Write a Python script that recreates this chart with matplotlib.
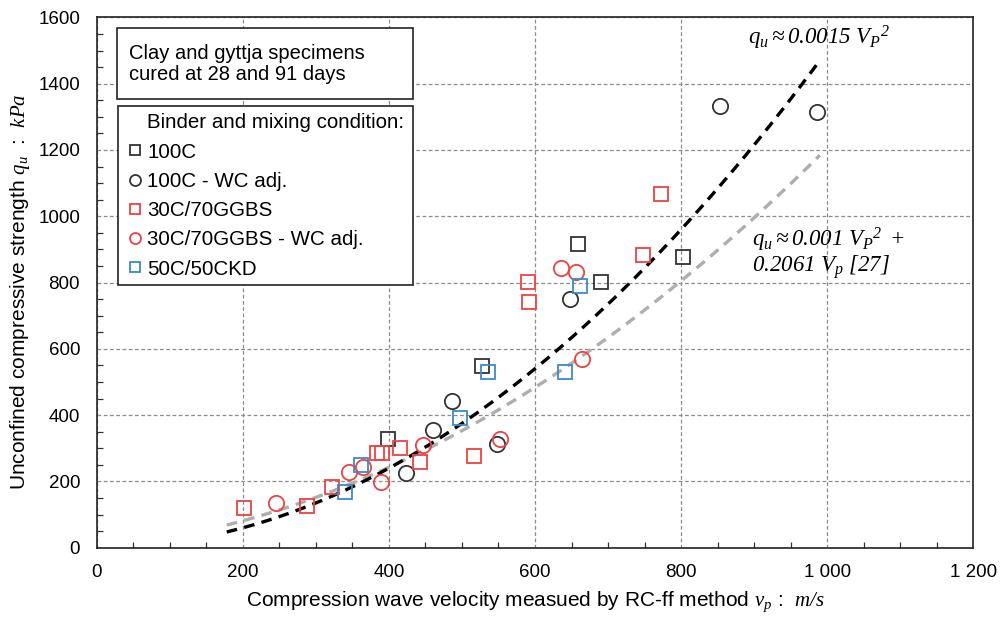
import numpy as np
import matplotlib
matplotlib.use("Agg")
import matplotlib.pyplot as plt
from matplotlib.lines import Line2D
from matplotlib.patches import Rectangle

plt.rcParams['font.family'] = ['Liberation Sans', 'DejaVu Sans']
plt.rcParams['mathtext.fontset'] = 'custom'
plt.rcParams['mathtext.rm'] = 'Liberation Serif:italic'
plt.rcParams['mathtext.it'] = 'Liberation Serif:italic'
plt.rcParams['mathtext.fallback'] = 'stix'

# ---- data ----
c100_x = [399, 527, 659, 690, 803]
c100_y = [327, 548, 915, 803, 877]

c100wc_x = [423, 461, 487, 548, 648, 853, 986]
c100wc_y = [224, 354, 444, 312, 751, 1334, 1316]

ggbs_x = [202, 288, 322, 384, 390, 415, 443, 516, 590, 592, 748, 772]
ggbs_y = [119, 126, 183, 287, 287, 302, 260, 278, 802, 742, 882, 1067]

ggbswc_x = [245, 346, 364, 389, 447, 552, 635, 656, 665]
ggbswc_y = [134, 228, 245, 198, 309, 329, 844, 833, 569]

ckd_x = [340, 362, 498, 536, 641, 662]
ckd_y = [169, 249, 390, 529, 530, 790]

labels = ["100C", "100C - WC adj.", "30C/70GGBS", "30C/70GGBS - WC adj.", "50C/50CKD"]
legend_title = "Binder and mixing condition:"
box_text = "Clay and gyttja specimens\ncured at 28 and 91 days"

fit_x_range = [178, 990]
fit1_a = 0.0015
fit2_a, fit2_b = 0.001, 0.2061

xticks = [0, 200, 400, 600, 800, 1000, 1200]
xticklabels = ["0", "200", "400", "600", "800", "1 000", "1 200"]
yticks = [0, 200, 400, 600, 800, 1000, 1200, 1400, 1600]

# ---- colours ----
BLACK = '#333333'
RED = '#ec4343'
BLUE = '#3a8ac6'

fig = plt.figure(figsize=(10.01, 6.21), dpi=100)
ax = fig.add_axes([0.0966, 0.118, 0.8757, 0.854])

ax.set_xlim(0, 1200)
ax.set_ylim(0, 1600)

ax.grid(True, which='major', color='#8c8c8c', linestyle=(0, (3, 2)), linewidth=0.9)
ax.set_axisbelow(True)

# fitted curves
xf = np.linspace(fit_x_range[0], fit_x_range[1], 300)
ax.plot(xf, fit2_a * xf**2 + fit2_b * xf, color='#b0aeaa', lw=2.4,
        linestyle=(0, (3.2, 2.2)), zorder=2)
ax.plot(xf, fit1_a * xf**2, color='black', lw=2.4,
        linestyle=(0, (3.2, 2.2)), zorder=2)

ms = 10
mew = 1.3
h1, = ax.plot(c100_x, c100_y, linestyle='none', marker='s', ms=ms, mfc='none', mec=BLACK, mew=mew, zorder=3)
h2, = ax.plot(c100wc_x, c100wc_y, linestyle='none', marker='o', ms=ms + 1, mfc='none', mec=BLACK, mew=mew, zorder=3)
h3, = ax.plot(ggbs_x, ggbs_y, linestyle='none', marker='s', ms=ms, mfc='none', mec=RED, mew=mew, zorder=3)
h4, = ax.plot(ggbswc_x, ggbswc_y, linestyle='none', marker='o', ms=ms + 1, mfc='none', mec=RED, mew=mew, zorder=3)
h5, = ax.plot(ckd_x, ckd_y, linestyle='none', marker='s', ms=ms, mfc='none', mec=BLUE, mew=mew, zorder=3)

# ticks
ax.set_xticks(xticks)
ax.set_xticklabels(xticklabels)
ax.set_yticks(yticks)
ax.set_xticks(np.arange(0, 1201, 50), minor=True)
ax.set_yticks(np.arange(0, 1601, 50), minor=True)
ax.tick_params(which='both', direction='in', length=4, width=0.9, color='#333333',
               labelsize=13.5, top=False, right=False)
ax.tick_params(which='major', length=0, pad=12)
for s in ax.spines.values():
    s.set_linewidth(1.2)
    s.set_color('#222222')

ax.set_xlabel("Compression wave velocity measued by RC-ff method $v_p$ :  $m/s$",
              fontsize=15, labelpad=6)
ax.set_ylabel("Unconfined compressive strength $q_u$  :  $kPa$", fontsize=15)
ax.yaxis.set_label_coords(-0.074, 0.482)

# text box
ax.add_patch(Rectangle((0.0228, 0.8465), 0.3384, 0.1335, transform=ax.transAxes,
                       facecolor='white', edgecolor='#222222', lw=1.2, zorder=5))
ax.text(0.0372, 0.912, box_text, transform=ax.transAxes, fontsize=14.5,
        va='center', ha='left', linespacing=1.1, zorder=6)

# legend
dummy = Line2D([], [], linestyle='none', marker=None)
leg = ax.legend([dummy, h1, h2, h3, h4, h5], [legend_title] + labels,
                loc='upper left', bbox_to_anchor=(0.0243, 0.832, 0.3371, 0.0),
                mode='expand', frameon=True, fancybox=False, framealpha=1,
                edgecolor='#222222', fontsize=14.8, markerscale=0.72,
                handlelength=1.0, handletextpad=0.1, labelspacing=0.5,
                borderpad=0.33, borderaxespad=0.0)
leg.get_frame().set_linewidth(1.2)
leg.set_zorder(6)

# equation annotations
ax.text(891, 1537, r"$q_u \approx 0.0015\ V_P{}^{2}$", fontsize=16.5,
        ha='left', va='center')
ax.text(897, 888, "$q_u \\approx 0.001\\ V_P{}^{2}\\ +$\n$0.2061\\ V_p\\ [27]$",
        fontsize=16.5, ha='left', va='center', linespacing=1.0)

fig.savefig("out.png", dpi=100)
